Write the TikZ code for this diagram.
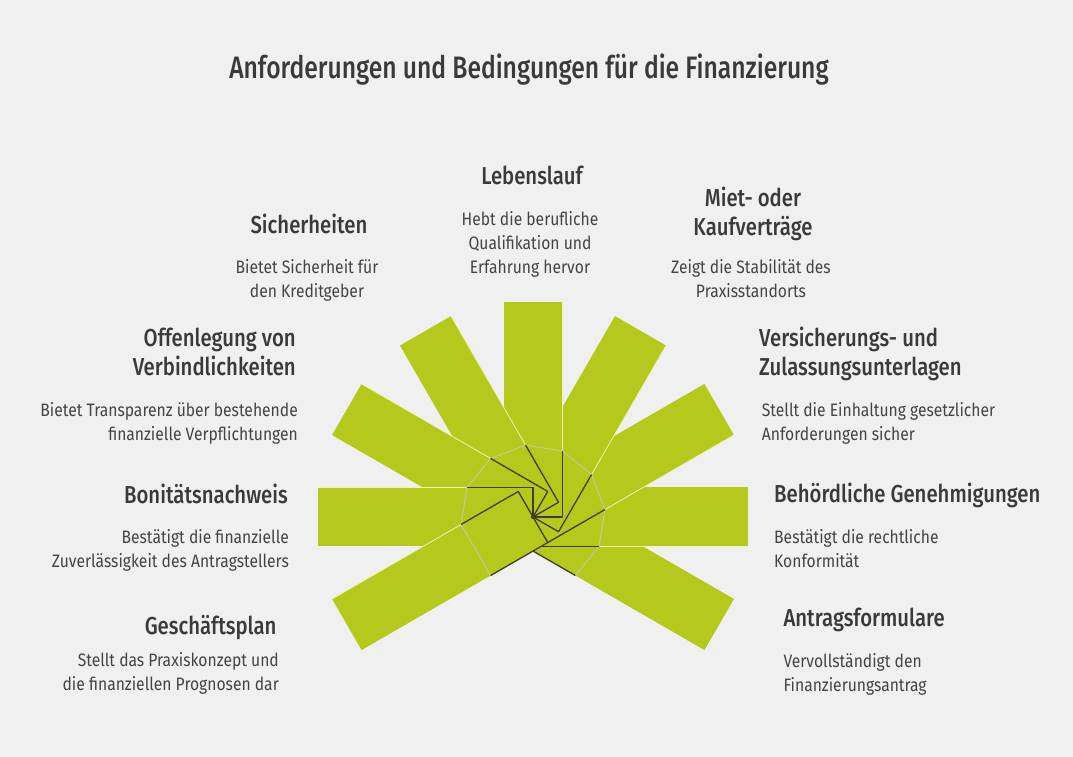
\documentclass[tikz,border=0pt]{standalone}
\usepackage{fontspec}
\setmainfont{Fira Sans}
\newfontfamily\titlefont{Fira Sans Medium}[FakeStretch=0.795]
\newfontfamily\headfont{Fira Sans Medium}[FakeStretch=0.83]
\newfontfamily\bodyfont{Fira Sans}[FakeStretch=0.87]
\usetikzlibrary{calc}

\definecolor{pagebg}{HTML}{F0F0F0}
\definecolor{barlime}{HTML}{B5C81C}
\definecolor{rimlight}{HTML}{EEF3B8}
\definecolor{ringgray}{HTML}{C6C9A6}
\definecolor{folddark}{HTML}{3E3E22}
\definecolor{textdark}{HTML}{3A3A3A}

\tikzset{
  bar/.style={fill=barlime},
  rimline/.style={draw=rimlight,line width=0.8pt},
  ringline/.style={draw=ringgray,line width=0.9pt},
  foldline/.style={draw=folddark,line width=1.3pt,line join=round},
  head/.style={inner sep=0pt,text=textdark,font=\headfont\fontsize{24.5}{29.5}\selectfont},
  body/.style={inner sep=0pt,text=textdark!95!white,font=\bodyfont\fontsize{18}{24}\selectfont},
}

\begin{document}
\begin{tikzpicture}[x=1pt,y=1pt]

	% Draw the page background
	\fill[pagebg] (0,0) rectangle (1073,757);
	\useasboundingbox (0,0) rectangle (1073,757);

	\coordinate (C) at (533,240);

	% Draw the bars, each one over its clockwise neighbour
	\foreach \a in {-30,0,...,210}
		\fill[bar] ($(C)+(\a-90:29.5)$) -- ++(\a:215) -- ++(\a+90:59) -- ++(\a+180:215) -- cycle;

	% Draw the light edges where the bars overlap
	\foreach \a in {0,30,...,210}
		\draw[rimline] ($(C)+(\a-90:29.5)+(\a:66)$) -- ++(\a:149);

	% Draw the inner ring
	\draw[ringline] ($(C)+(-120:29.5)+(-30:66)$)
		\foreach \a in {0,30,...,210} { -- ($(C)+(\a-90:29.5)+(\a:66)$) }
		-- ($(C)+(300:29.5)+(210:66)$);

	% Draw the folds inside the ring
	\foreach \a in {30,60,...,210}
		\draw[foldline] ($(C)+(\a-90:29.5)+(\a:66)$) -- ($(C)+(\a-90:29.5)$) -- (C);
	\draw[foldline] ($(C)+(-90:29.5)+(0:66)$) -- ($(C)+(-90:29.5)+(0:8)$);
	\draw[foldline] ($(C)+(-120:29.5)+(-30:66)$) -- ($(C)+(-120:29.5)+(-30:17)$);
	\draw[foldline] ($(C)+(300:29.5)+(210:66)$) -- ($(C)+(300:29.5)$);
	\fill[folddark] (C) circle[radius=2];

	% Title
	\node[head,anchor=base,font=\titlefont\fontsize{31}{36}\selectfont] (title) at (529,678.7)
		{Anforderungen und Bedingungen für die Finanzierung};

	% Top labels
	\node[head,anchor=base] (lebenslauf) at (532,572) {Lebenslauf};
	\node[body,anchor=base,align=center] (lebenslaufText) at (530,483.7)
		{Hebt die berufliche\\Qualifikation und\\Erfahrung hervor};

	\node[head,anchor=base] (sicherheiten) at (309,523.7) {Sicherheiten};
	\node[body,anchor=base,align=center] (sicherheitenText) at (307,459.3)
		{Bietet Sicherheit für\\den Kreditgeber};

	\node[head,anchor=base,align=center] (miete) at (753,521) {Miet- oder\\Kaufverträge};
	\node[body,anchor=base,align=center] (mieteText) at (751,459)
		{Zeigt die Stabilität des\\Praxisstandorts};

	% Left labels
	\node[head,anchor=base east,align=right] (offenlegung) at (296,381)
		{Offenlegung von\\Verbindlichkeiten};
	\node[body,anchor=base east,align=right] (offenlegungText) at (298,316.3)
		{Bietet Transparenz über bestehende\\finanzielle Verpflichtungen};

	\node[head,anchor=base east] (bonitaet) at (288,253.7) {Bonitätsnachweis};
	\node[body,anchor=base east,align=right] (bonitaetText) at (289,189.7)
		{Bestätigt die finanzielle\\Zuverlässigkeit des Antragstellers};

	\node[head,anchor=base east] (geschaeftsplan) at (276.7,122) {Geschäftsplan};
	\node[body,anchor=base east,align=right] (geschaeftsplanText) at (279,66.3)
		{Stellt das Praxiskonzept und\\die finanziellen Prognosen dar};

	% Right labels
	\node[head,anchor=base west,align=left] (versicherung) at (759,381)
		{Versicherungs- und\\Zulassungsunterlagen};
	\node[body,anchor=base west,align=left] (versicherungText) at (761.7,316.3)
		{Stellt die Einhaltung gesetzlicher\\Anforderungen sicher};

	\node[head,anchor=base west] (behoerde) at (774,254.7) {Behördliche Genehmigungen};
	\node[body,anchor=base west,align=left] (behoerdeText) at (774,189.3)
		{Bestätigt die rechtliche\\Konformität};

	\node[head,anchor=base west] (antrag) at (783.3,130.3) {Antragsformulare};
	\node[body,anchor=base west,align=left] (antragText) at (783.3,65.3)
		{Vervollständigt den\\Finanzierungsantrag};

\end{tikzpicture}
\end{document}
